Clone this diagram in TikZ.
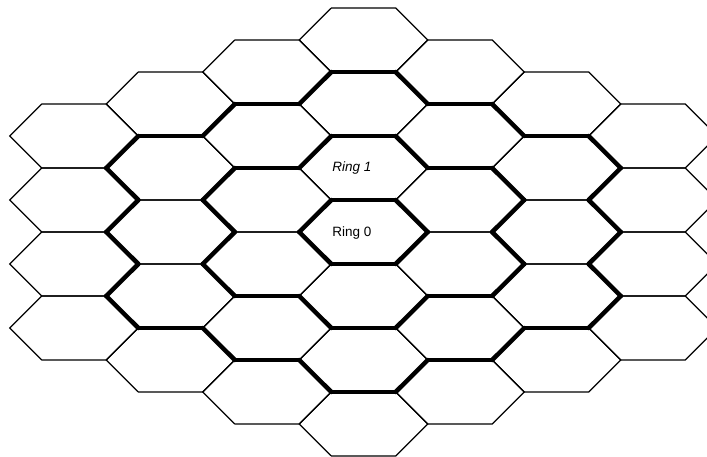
\documentclass[tikz,border=0pt]{standalone}
\usepackage{fontspec}
\newfontfamily\labfont{Liberation Sans}
\begin{document}
\begin{tikzpicture}[x=1pt,y=1pt,
  hexline/.style={line width=1.2pt,line join=miter,black},
  ringline/.style={line width=4.5pt,line cap=round,black},
  lab/.style={font=\labfont\fontsize{13.5}{15}\selectfont,inner sep=0pt}]
\useasboundingbox (0,0) rectangle (707,456);
\clip (0,0) rectangle (707,456);
\def\S{64.3}\def\H{32}\def\DX{96.5}\def\CX{363.5}\def\CY{224}
% all 37 cells, thin outlines
\foreach \c in {-3,...,3}{
  \foreach \v in {-6,...,6}{
    \pgfmathtruncatemacro\prt{mod(abs(\v+\c),2)}
    \pgfmathtruncatemacro\dd{abs(\c)+max(0,(abs(\v)-abs(\c))/2)}
    \ifnum\prt=0 \ifnum\dd<4
      \pgfmathsetmacro\X{\CX+\DX*\c}
      \pgfmathsetmacro\Y{\CY+\H*\v}
      \draw[hexline,shift={(\X,\Y)}] (\S,0) -- (\S/2,\H) -- (-\S/2,\H) -- (-\S,0) -- (-\S/2,-\H) -- (\S/2,-\H) -- cycle;
    \fi\fi
  }
}
% thick ring boundaries
\foreach \c in {-3,...,3}{
  \foreach \v in {-6,...,6}{
    \pgfmathtruncatemacro\prt{mod(abs(\v+\c),2)}
    \pgfmathtruncatemacro\dd{abs(\c)+max(0,(abs(\v)-abs(\c))/2)}
    \ifnum\prt=0 \ifnum\dd<3
      \pgfmathsetmacro\X{\CX+\DX*\c}
      \pgfmathsetmacro\Y{\CY+\H*\v}
      \foreach \dc/\dv/\ax/\ay/\bx/\by in {0/2/0.5/1/-0.5/1, 0/-2/-0.5/-1/0.5/-1, 1/1/1/0/0.5/1, 1/-1/0.5/-1/1/0, -1/1/-0.5/1/-1/0, -1/-1/-1/0/-0.5/-1}{
        \pgfmathtruncatemacro\nc{\c+\dc}
        \pgfmathtruncatemacro\nv{\v+\dv}
        \pgfmathtruncatemacro\dn{abs(\nc)+max(0,(abs(\nv)-abs(\nc))/2)}
        \ifnum\dn>\dd
          \draw[ringline,shift={(\X,\Y)}] (\ax*\S,\ay*\H) -- (\bx*\S,\by*\H);
        \fi
      }
    \fi\fi
  }
}
\node[lab] (ring0) at (352,223) {Ring 0};
\node[lab] (ring1) at (352,288) {\itshape Ring 1};
\end{tikzpicture}
\end{document}
